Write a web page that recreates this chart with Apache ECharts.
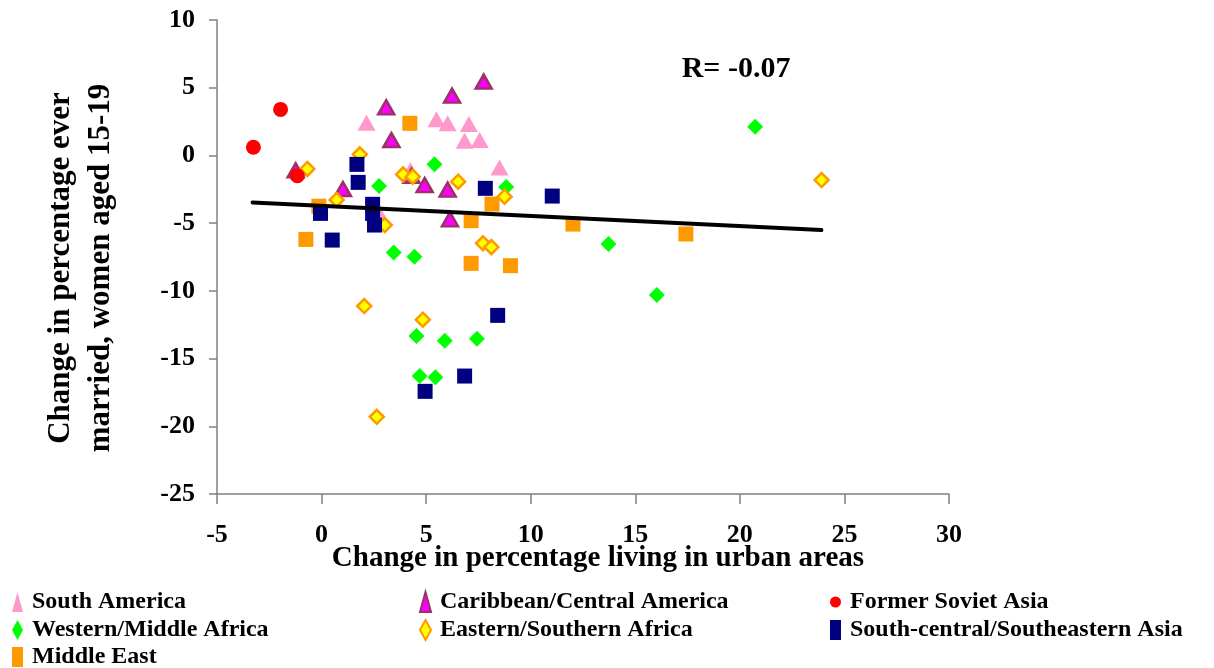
<!DOCTYPE html>
<html><head><meta charset="utf-8">
<script src="https://cdn.jsdelivr.net/npm/echarts@6/dist/echarts.min.js"></script>
<style>html,body{margin:0;padding:0;background:#fff}#c{width:1214px;height:668px}</style>
</head><body><div id="c"></div>
<script>
const seriesNames = ["South America","Caribbean/Central America","Former Soviet Asia","Western/Middle Africa","Eastern/Southern Africa","South-central/Southeastern Asia","Middle East"];
const southAmerica = [[2.15,2.42],[5.49,2.67],[6.03,2.37],[7.04,2.32],[6.84,1.09],[7.56,1.14],[8.51,-0.9],[4.25,-1.1],[2.8,-4.4]];
const caribbean = [[-1.24,-1.1],[3.09,3.55],[3.34,1.14],[6.24,4.41],[7.75,5.45],[1.02,-2.48],[4.93,-2.19],[6.03,-2.53],[6.14,-4.72],[4.3,-1.5]];
const formerSoviet = [[-1.96,3.4],[-3.26,0.6],[-1.16,-1.5]];
const westernAfrica = [[5.4,-0.66],[2.75,-2.26],[8.83,-2.33],[20.73,2.12],[13.72,-6.54],[16.03,-10.31],[3.45,-7.16],[4.44,-7.48],[4.54,-13.34],[5.89,-13.68],[7.43,-13.54],[4.69,-16.29],[5.44,-16.37]];
const easternAfrica = [[-0.68,-1.0],[1.83,0.08],[3.9,-1.4],[4.36,-1.57],[6.53,-1.94],[8.75,-3.05],[0.72,-3.29],[3.02,-5.14],[7.72,-6.49],[8.12,-6.77],[23.91,-1.82],[2.04,-11.12],[4.84,-12.13],[2.64,-19.3]];
const southAsia = [[1.69,-0.66],[1.75,-1.99],[2.44,-3.61],[2.44,-4.28],[2.53,-5.14],[-0.05,-4.28],[0.51,-6.25],[7.83,-2.43],[11.03,-3.0],[8.42,-11.81],[6.84,-16.29],[4.95,-17.42]];
const middleEast = [[4.22,2.37],[-0.75,-6.2],[8.15,-3.59],[7.15,-4.82],[7.15,-7.97],[9.03,-8.14],[12.02,-5.07],[17.42,-5.8],[-0.13,-3.75]];
const trendLine = [[-3.3,-3.47],[23.9,-5.51]];
const rText = "R= -0.07";

const FONT = "'Liberation Serif','Times New Roman',serif";
const chart = echarts.init(document.getElementById('c'));

function sc(name, data, symbol, size, color, border, bw, z){
  return {type:'scatter', name, data, symbol, symbolSize:size, z:z,
    itemStyle:{color, borderColor:border||color, borderWidth:bw||0, opacity:1}};
}
const legendPos = [[12,590],[419,590],[830,590],[12,618],[419,618],[830,618],[12,645]];
const legends = seriesNames.map((n,i)=>({
  data:[n], left:legendPos[i][0], top:legendPos[i][1], orient:'horizontal',
  itemWidth:11, itemHeight:20, itemGap:5, padding:0, selectedMode:false,
  textStyle:{fontFamily:FONT, fontWeight:'bold', fontSize:24, color:'#000', padding:[0,0,0,4]}
}));

chart.setOption({
  animation:false,
  backgroundColor:'#fff',
  grid:{left:217, top:20, right:265, bottom:174, containLabel:false},
  legend: legends,
  xAxis:{type:'value', min:-5, max:30, interval:5,
    axisLine:{onZero:false, lineStyle:{color:'#808080', width:1.5}},
    axisTick:{show:true, inside:false, length:10, lineStyle:{color:'#808080', width:1.5}},
    splitLine:{show:false},
    axisLabel:{margin:28, fontFamily:FONT, fontWeight:'bold', fontSize:26, color:'#000'}},
  yAxis:{type:'value', min:-25, max:10, interval:5,
    axisLine:{show:true, onZero:false, lineStyle:{color:'#808080', width:1.5}},
    axisTick:{show:true, inside:false, length:8, lineStyle:{color:'#808080', width:1.5}},
    splitLine:{show:false},
    axisLabel:{margin:22, fontFamily:FONT, fontWeight:'bold', fontSize:26, color:'#000'}},
  graphic:[
    {type:'text', x:81, y:268, rotation:Math.PI/2,
      style:{text:'Change in percentage ever\nmarried, women aged 15-19', font:'bold 31px '+FONT, fill:'#000', textAlign:'center', textVerticalAlign:'middle', lineHeight:40}},
    {type:'text', x:598, y:559,
      style:{text:'Change in percentage living in urban areas', font:'bold 29px '+FONT, fill:'#000', textAlign:'center', textVerticalAlign:'middle'}},
    {type:'text', x:736, y:69,
      style:{text:rText, font:'bold 30px '+FONT, fill:'#000', textAlign:'center', textVerticalAlign:'middle'}}
  ],
  series:[
    sc(seriesNames[0], southAmerica, 'triangle', [18,16], '#FF99CC', null, 0, 2),
    sc(seriesNames[1], caribbean, 'triangle', [16,14], '#FF00FF', '#993366', 2.5, 3),
    sc(seriesNames[3], westernAfrica, 'diamond', [16,16], '#00FF00', null, 0, 4),
    sc(seriesNames[4], easternAfrica, 'diamond', [14,14], '#FFFF00', '#FF9900', 2.5, 5),
    sc(seriesNames[6], middleEast, 'rect', [15,15], '#FF9900', null, 0, 6),
    sc(seriesNames[5], southAsia, 'rect', [15,15], '#000080', null, 0, 7),
    sc(seriesNames[2], formerSoviet, 'circle', 15, '#FF0000', null, 0, 8),
    {type:'line', data:trendLine, symbol:'none', z:10, silent:true,
      lineStyle:{color:'#000', width:4, cap:'round'}}
  ]
});
</script></body></html>
